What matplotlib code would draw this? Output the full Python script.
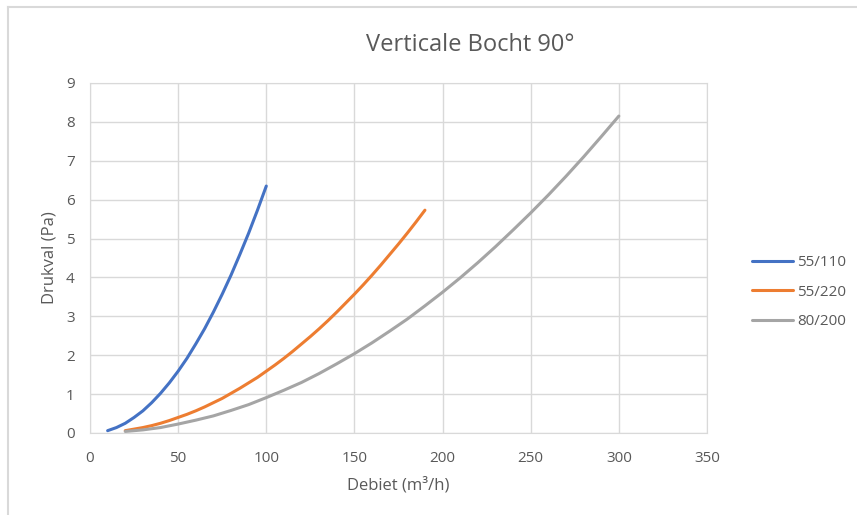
import matplotlib
matplotlib.use('Agg')
import matplotlib.pyplot as plt
from matplotlib.lines import Line2D

plt.rcParams['font.family'] = ['Open Sans', 'DejaVu Sans']

# 55/110
x1 = [10, 15, 20, 25, 30, 35, 40, 45, 50, 55, 60, 65, 70, 75, 80, 85, 90, 95, 100]
y1 = [0.06, 0.14, 0.25, 0.40, 0.57, 0.78, 1.02, 1.29, 1.59, 1.92, 2.29, 2.68, 3.11, 3.57,
      4.06, 4.59, 5.14, 5.73, 6.35]
# 55/220
x2 = [20, 25, 30, 35, 40, 45, 50, 55, 60, 65, 70, 75, 80, 85, 90, 95, 100, 105, 110, 115,
      120, 125, 130, 135, 140, 145, 150, 155, 160, 165, 170, 175, 180, 185, 190]
y2 = [0.06, 0.10, 0.14, 0.19, 0.25, 0.32, 0.40, 0.48, 0.57, 0.67, 0.78, 0.89, 1.02, 1.15,
      1.29, 1.43, 1.59, 1.75, 1.92, 2.10, 2.29, 2.48, 2.68, 2.89, 3.11, 3.34, 3.57, 3.81,
      4.06, 4.32, 4.59, 4.86, 5.14, 5.43, 5.73]
# 80/200
x3 = [20, 30, 40, 50, 60, 70, 80, 90, 100, 110, 120, 130, 140, 150, 160, 170, 180, 190,
      200, 210, 220, 230, 240, 250, 260, 270, 280, 290, 300]
y3 = [0.04, 0.08, 0.14, 0.23, 0.33, 0.44, 0.58, 0.73, 0.91, 1.10, 1.30, 1.53, 1.78, 2.04,
      2.32, 2.62, 2.93, 3.27, 3.62, 3.99, 4.38, 4.79, 5.22, 5.66, 6.12, 6.60, 7.10, 7.62, 8.15]

labels = ['55/110', '55/220', '80/200']
colors = ['#4472C4', '#ED7D31', '#A5A5A5']

fig = plt.figure(figsize=(8.57, 5.15), dpi=100)
ax = fig.add_axes([90/857, 82/515, 617/857, 350/515])

for xs, ys, lab, c in zip([x1, x2, x3], [y1, y2, y3], labels, colors):
    ax.plot(xs, ys, color=c, lw=2.2, label=lab, solid_capstyle='round', solid_joinstyle='round')

ax.set_xlim(0, 350)
ax.set_ylim(0, 9)
ax.set_xticks(range(0, 351, 50))
ax.set_yticks(range(0, 10))
ax.grid(True, color='#d9d9d9', lw=1)
ax.set_axisbelow(True)
for s in ax.spines.values():
    s.set_color('#d9d9d9')
ax.tick_params(length=0, labelsize=11, labelcolor='#595959', pad=11)
ax.tick_params(axis='x', pad=13)

ax.set_xlabel('Debiet (m³/h)', fontsize=12, color='#595959', labelpad=8)
ax.set_ylabel('Drukval (Pa)', fontsize=12, color='#595959', labelpad=6)

fig.text(470/857, 1 - 45/515, 'Verticale Bocht 90°', fontsize=17, color='#595959',
         ha='center', va='center')

ax.legend(loc='center left', bbox_to_anchor=(738/857, 1 - 292/515), bbox_transform=fig.transFigure,
          frameon=False, fontsize=11, labelcolor='#595959', handlelength=2.7, labelspacing=0.95,
          handletextpad=0.25)

# chart border
fig.add_artist(Line2D([8/857, 8/857], [0, 1 - 7/515], color='#d9d9d9', lw=1.5, transform=fig.transFigure))
fig.add_artist(Line2D([8/857, 1], [1 - 7/515, 1 - 7/515], color='#d9d9d9', lw=1.5, transform=fig.transFigure))

fig.savefig('out.png', dpi=100)
